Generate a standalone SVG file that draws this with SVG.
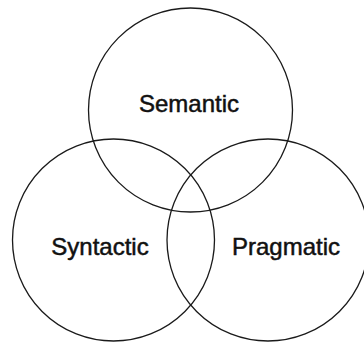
<svg xmlns="http://www.w3.org/2000/svg" width="364" height="343" viewBox="0 0 364 343">
<style>
.c{fill:none;stroke:#1a1a1a;stroke-width:1.3}
.t{font-family:"Liberation Sans",Arial,sans-serif;font-size:24px;fill:#111;stroke:#111;stroke-width:0.5;text-anchor:middle}
</style>
<rect width="364" height="343" fill="#fff"/>
<g id="semantic"><circle class="c" cx="190.5" cy="110" r="102"/><text class="t" x="189" y="112">Semantic</text></g>
<g id="syntactic"><circle class="c" cx="113.5" cy="240" r="101"/><text class="t" x="100" y="254.5">Syntactic</text></g>
<g id="pragmatic"><circle class="c" cx="268" cy="240" r="101"/><text class="t" x="286" y="255">Pragmatic</text></g>
<g id="connectors"/>
</svg>
